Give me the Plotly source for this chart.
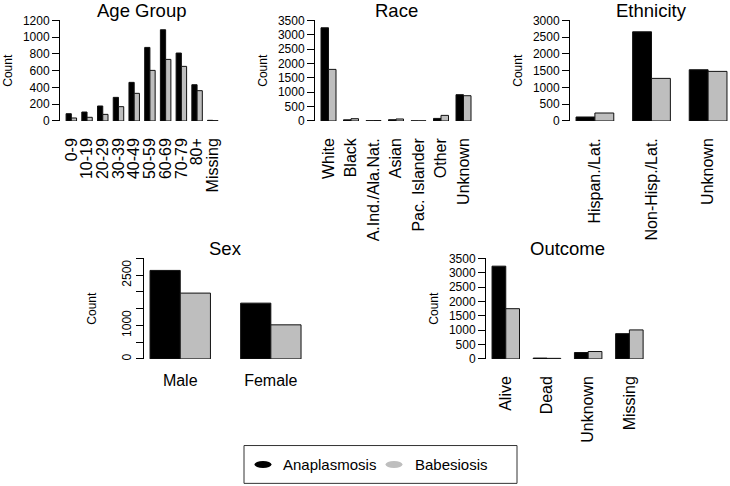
import plotly.graph_objects as go

W, H = 730, 486          # size of the reference picture
HL = 494                 # layout height: the page photo comes out squeezed vertically
Y0, YS = 4.5, 0.976      # measured offset / scale of that squeeze

# ---- data ----
diseases = ["Anaplasmosis", "Babesiosis"]
colors = ["#000000", "#BEBEBE"]

age_groups = ["0-9", "10-19", "20-29", "30-39", "40-49", "50-59", "60-69", "70-79", "80+", "Missing"]
age_anaplasmosis = [87, 107, 179, 282, 461, 878, 1089, 811, 433, 8]
age_babesiosis = [36, 44, 79, 171, 330, 604, 735, 652, 362, 4]
age_ticks = [0, 200, 400, 600, 800, 1000, 1200]

race_groups = ["White", "Black", "A.Ind./Ala.Nat.", "Asian", "Pac. Islander", "Other", "Unknown"]
race_anaplasmosis = [3245, 40, 10, 45, 5, 90, 916]
race_babesiosis = [1796, 80, 15, 70, 5, 195, 880]
race_ticks = [0, 500, 1000, 1500, 2000, 2500, 3000, 3500]

eth_groups = ["Hispan./Lat.", "Non-Hisp./Lat.", "Unknown"]
eth_anaplasmosis = [119, 2661, 1529]
eth_babesiosis = [238, 1271, 1480]
eth_ticks = [0, 500, 1000, 1500, 2000, 2500, 3000]

sex_groups = ["Male", "Female"]
sex_anaplasmosis = [2641, 1665]
sex_babesiosis = [1964, 1017]
sex_ticks = [0, 500, 1000, 1500, 2000, 2500, 3000]
sex_tick_labels = ["0", "", "1000", "", "", "2500", ""]   # R drops overlapping labels

outcome_groups = ["Alive", "Dead", "Unknown", "Missing"]
outcome_anaplasmosis = [3229, 30, 223, 880]
outcome_babesiosis = [1749, 20, 258, 1010]
outcome_ticks = [0, 500, 1000, 1500, 2000, 2500, 3000, 3500]

# ---- panel placement (reference pixels) ----
panels = [
    # title, cats, series a, series b, yticks, ytext, left, px per category, top, bottom, rotate x, rotate y
    ("Age Group", age_groups, age_anaplasmosis, age_babesiosis, age_ticks, None, 60, 15.72, 18, 119, True, False),
    ("Race", race_groups, race_anaplasmosis, race_babesiosis, race_ticks, None, 315, 22.5, 18, 119, True, False),
    ("Ethnicity", eth_groups, eth_anaplasmosis, eth_babesiosis, eth_ticks, None, 570, 56.6, 18, 119, True, False),
    ("Sex", sex_groups, sex_anaplasmosis, sex_babesiosis, sex_ticks, sex_tick_labels, 144, 90.6, 257, 358, False, True),
    ("Outcome", outcome_groups, outcome_anaplasmosis, outcome_babesiosis, outcome_ticks, None, 486, 41.2, 257, 358, True, False),
]


def px(x):
    return x / W


def py(y):
    return 1 - ((y - Y0) / YS) / HL


FONT = "Liberation Sans"
fig = go.Figure()
layout = {}
annotations = []

for k, (title, cats, a, b, yt, ytext, left, cpx, top, bottom, rotx, roty) in enumerate(panels, start=1):
    sfx = "" if k == 1 else str(k)
    for name, vals, col in zip(diseases, [a, b], colors):
        fig.add_trace(go.Bar(
            x=cats, y=vals, name=name, showlegend=False,
            marker=dict(color=col, line=dict(color="#111111", width=1)),
            xaxis="x" + sfx, yaxis="y" + sfx,
        ))
    n = len(cats)
    pad = 0.04 * (3 * n - 1) / 3              # R's 4% axis extension, in category units
    x_lo = -1 / 3 - pad
    span = (3 * n - 1) / 3 + 2 * pad
    right = min(left + span * cpx, W)
    layout["xaxis" + sfx] = dict(
        domain=[px(left), px(right)], anchor="y" + sfx, type="category",
        range=[x_lo, x_lo + (right - left) / cpx],
        tickmode="array", tickvals=cats, ticktext=cats,
        showline=False, ticks="", showgrid=False, zeroline=False,
        tickangle=-90 if rotx else 0, tickfont=dict(size=16, color="black"),
        ticklabelstandoff=13 if rotx else 10,
    )
    layout["yaxis" + sfx] = dict(
        domain=[py(bottom), py(top)], anchor="x" + sfx,
        range=[0, yt[-1]], tickvals=yt, ticktext=ytext if ytext else [str(v) for v in yt],
        ticks="outside", ticklen=7, tickwidth=1, tickcolor="black",
        showline=True, linecolor="black", linewidth=1,
        showgrid=False, zeroline=False,
        tickangle=-90 if roty else 0, tickfont=dict(size=12, color="black"),
    )
    annotations.append(dict(
        text=title, xref="paper", yref="paper", x=px(left + 81), y=py(top - 10),
        xanchor="center", yanchor="middle", showarrow=False,
        font=dict(size=18.5, color="black"),
    ))
    annotations.append(dict(
        text="Count", xref="paper", yref="paper", x=px(left - 52), y=py((top + bottom) / 2),
        xanchor="center", yanchor="middle", textangle=-90, showarrow=False,
        font=dict(size=12, color="black"),
    ))

# ---- legend (box with oval keys) ----
shapes = [dict(type="rect", xref="paper", yref="paper",
               x0=px(244), x1=px(517), y0=py(483), y1=py(445),
               line=dict(color="#333333", width=1), fillcolor="white")]
for name, col, kx, tx in zip(diseases, colors, [263, 394], [281, 413]):
    shapes.append(dict(type="circle", xref="paper", yref="paper",
                       x0=px(kx - 8.5), x1=px(kx + 8.5), y0=py(467.5), y1=py(460.5),
                       line=dict(color=col, width=0), fillcolor=col))
    annotations.append(dict(text=name, xref="paper", yref="paper", x=px(tx), y=py(464),
                            xanchor="left", yanchor="middle", showarrow=False,
                            font=dict(size=15, color="black")))

fig.update_layout(
    width=W, height=HL, margin=dict(l=0, r=0, t=0, b=0), autosize=False,
    barmode="group", bargap=1 / 3, bargroupgap=0,
    plot_bgcolor="white", paper_bgcolor="white",
    font=dict(family=FONT, color="black"),
    annotations=annotations, shapes=shapes,
    **layout,
)

fig.write_html("out.html", config={"displayModeBar": False, "responsive": False},
               post_script="document.body.style.margin = '0px'; document.body.style.overflow = 'hidden';")
